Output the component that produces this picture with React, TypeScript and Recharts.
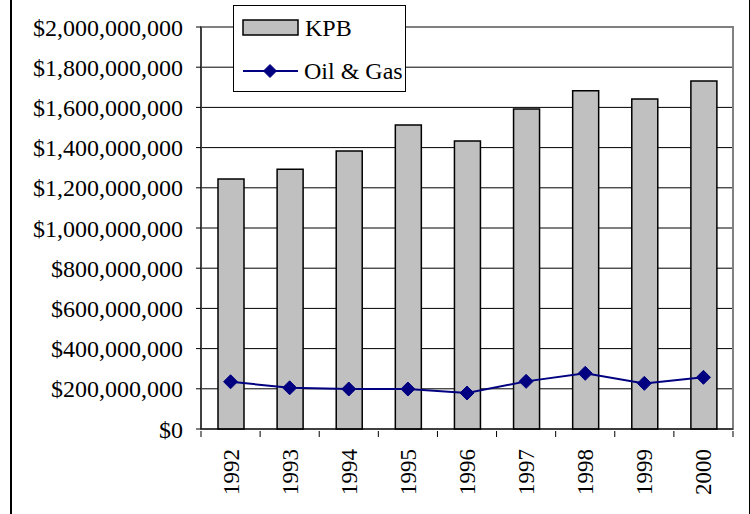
import React from "react"
import {
  Bar,
  CartesianGrid,
  ComposedChart,
  Line,
  ReferenceArea,
  XAxis,
  YAxis,
} from "recharts"

const years = ["1992", "1993", "1994", "1995", "1996", "1997", "1998", "1999", "2000"]
const kpb = [1244e6, 1292e6, 1383e6, 1512e6, 1433e6, 1592e6, 1683e6, 1642e6, 1731e6]
const oilGas = [235e6, 205e6, 199e6, 199e6, 179e6, 237e6, 277e6, 227e6, 257e6]
const yTicks = [0, 2e8, 4e8, 6e8, 8e8, 1e9, 1.2e9, 1.4e9, 1.6e9, 1.8e9, 2e9]

const data = years.map((year, i) => ({ year, kpb: kpb[i], oilGas: oilGas[i] }))

const FONT = '"Liberation Serif", "Times New Roman", serif'
const NAVY = "#000080"

function Diamond({ cx, cy, size = 7 }: { cx?: number; cy?: number; size?: number }) {
  if (cx == null || cy == null) return null
  const r = size
  return (
    <path
      d={`M${cx},${cy - r}L${cx + r},${cy}L${cx},${cy + r}L${cx - r},${cy}Z`}
      fill={NAVY}
      stroke={NAVY}
    />
  )
}

function YearTick(props: any) {
  const { x, y, payload, index, visibleTicksCount } = props
  const half = payload.offset ?? 29.5
  return (
    <g>
      <line x1={x - half} y1={y - 6} x2={x - half} y2={y} stroke="#000" />
      {index === visibleTicksCount - 1 && (
        <line x1={x + half} y1={y - 6} x2={x + half} y2={y} stroke="#000" />
      )}
      <text
        x={x}
        y={y + 12}
        transform={`rotate(-90 ${x} ${y + 12})`}
        textAnchor="end"
        dy="0.35em"
        fontSize={23}
        fontFamily={FONT}
        fill="#000"
      >
        {payload.value}
      </text>
    </g>
  )
}

function LegendBox() {
  return (
    <div
      style={{
        position: "absolute",
        left: 233,
        top: 5,
        width: 171,
        height: 85,
        border: "1px solid #000",
        background: "#fff",
      }}
    >
      <svg width={171} height={85} style={{ position: "absolute", left: 0, top: 0 }}>
        <rect x={9} y={14} width={55} height={15} fill="#C0C0C0" stroke="#000" strokeWidth={1.5} />
        <text x={71} y={30} fontSize={24} fontFamily={FONT}>KPB</text>
        <line x1={9} y1={65} x2={64} y2={65} stroke={NAVY} strokeWidth={2} />
        <Diamond cx={36} cy={65} size={6.5} />
        <text x={70} y={73} fontSize={24} fontFamily={FONT}>Oil &amp; Gas</text>
      </svg>
    </div>
  )
}

export default function App() {
  return (
    <div
      style={{
        position: "fixed",
        left: 0,
        top: 0,
        width: 750,
        height: 514,
        background: "#fff",
        overflow: "hidden",
      }}
    >
      <div
        style={{
          position: "absolute",
          left: 10,
          top: 0,
          width: 737,
          height: 514,
          borderLeft: "2px solid #000",
          borderRight: "2px solid #000",
        }}
      />
      <ComposedChart
        width={750}
        height={514}
        data={data}
        margin={{ top: 27, right: 17, left: 0, bottom: 0 }}
      >
        <CartesianGrid horizontal vertical={false} stroke="#000" />
        <ReferenceArea y1={0} y2={2e9} fill="none" stroke="#808080" strokeWidth={2} ifOverflow="visible" />
        <XAxis
          dataKey="year"
          height={85}
          axisLine={{ stroke: "#000" }}
          tickLine={false}
          tick={<YearTick />}
          interval={0}
        />
        <YAxis
          width={201}
          domain={[0, 2e9]}
          ticks={yTicks}
          interval={0}
          axisLine={{ stroke: "#000" }}
          tickLine={{ stroke: "#000" }}
          tickSize={5}
          tickMargin={13}
          tick={{ fontSize: 24, fontFamily: FONT, fill: "#000" }}
          tickFormatter={(v: number) => `$${v.toLocaleString("en-US")}`}
        />
        <Bar
          dataKey="kpb"
          name="KPB"
          fill="#C0C0C0"
          stroke="#000"
          strokeWidth={1.5}
          barSize={26}
          isAnimationActive={false}
        />
        <Line
          dataKey="oilGas"
          name="Oil & Gas"
          stroke={NAVY}
          strokeWidth={2}
          dot={<Diamond size={7} />}
          activeDot={false}
          isAnimationActive={false}
        />
      </ComposedChart>
      <LegendBox />
    </div>
  )
}
